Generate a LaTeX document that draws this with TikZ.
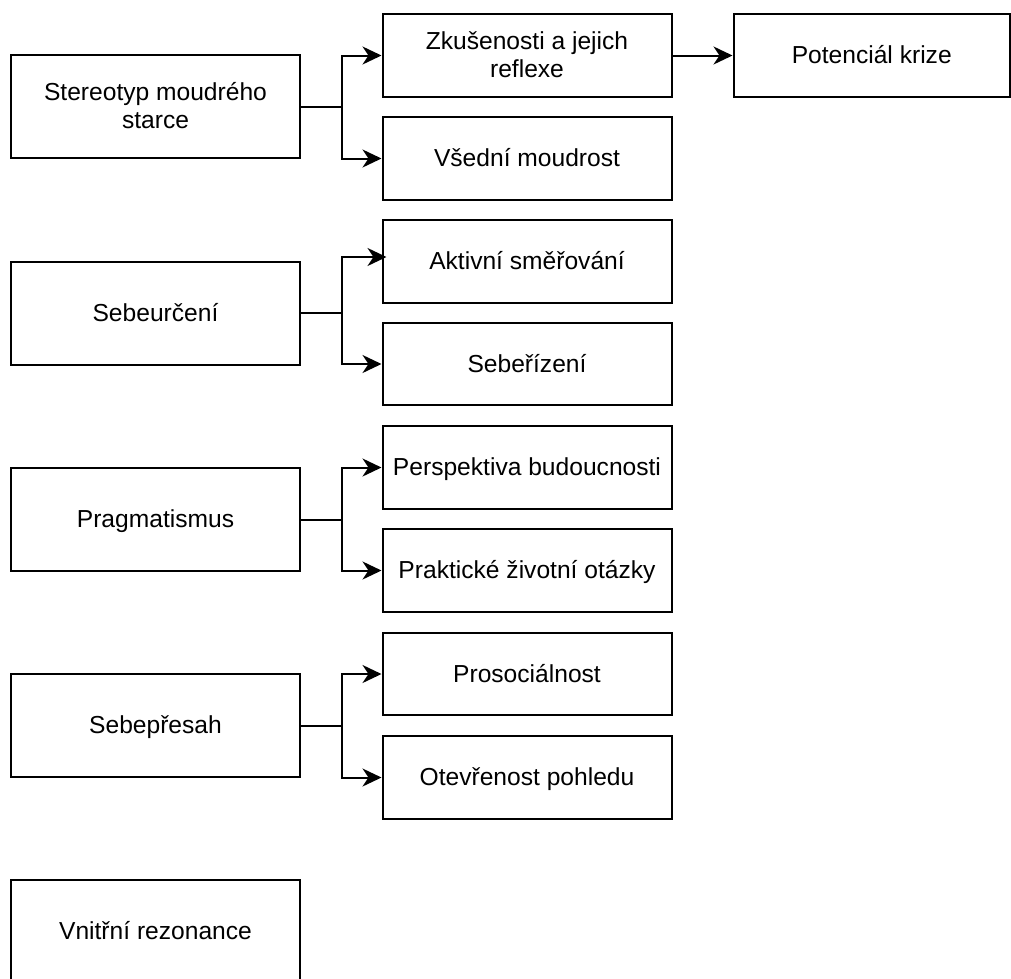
\documentclass[tikz,border=0pt]{standalone}
\usepackage{fontspec}
\setmainfont{Liberation Sans}
\usetikzlibrary{arrows.meta}
\begin{document}
\begin{tikzpicture}[x=1pt,y=-1pt,
  box/.style={draw=black, line width=2pt, fill=white, minimum height=82.5pt,
    minimum width=289pt, inner sep=0pt, text height=20pt, text depth=4pt,
    font=\fontsize{24.6}{28.5}\selectfont, align=center},
  bigbox/.style={box, minimum height=103pt},
  twoline/.style={text height=44.5pt, text depth=0pt},
  conn/.style={draw=black, line width=2pt,
    -{Stealth[length=19pt, width=18pt, inset=6pt]}},
  link/.style={draw=black, line width=2pt}
]
\useasboundingbox (0,0) rectangle (1011,978);
\clip (0,0) rectangle (1011,978);

% left column
\node[bigbox, twoline] (L1) at (155.5,106.5) {Stereotyp moudrého\\starce};
\node[bigbox] (L2) at (155.5,313) {Sebeurčení};
\node[bigbox] (L3) at (155.5,519.5) {Pragmatismus};
\node[bigbox] (L4) at (155.5,725.5) {Sebepřesah};
\node[bigbox] (L5) at (155.5,931.5) {Vnitřní rezonance};

% middle column
\node[box, twoline] (M1) at (527,55.5) {Zkušenosti a jejich\\reflexe};
\node[box] (M2) at (527,158.5) {Všední moudrost};
\node[box] (M3) at (527,261.5) {Aktivní směřování};
\node[box] (M4) at (527,364) {Sebeřízení};
\node[box] (M5) at (527,467.5) {Perspektiva budoucnosti};
\node[box] (M6) at (527,570.5) {Praktické životní otázky};
\node[box] (M7) at (527,674) {Prosociálnost};
\node[box] (M8) at (527,777.5) {Otevřenost pohledu};

% right column
\node[box, minimum width=276.5pt] (R1) at (871.75,55.5) {Potenciál krize};

\coordinate (M3in) at (386.5,257);

% connectors
\draw[conn] (L1.east) -- ++(41,0) |- (M1.west);
\draw[conn] (L1.east) -- ++(41,0) |- (M2.west);
\draw[conn] (L2.east) -- ++(41,0) |- (M3in);
\draw[conn] (L2.east) -- ++(41,0) |- (M4.west);
\draw[conn] (L3.east) -- ++(41,0) |- (M5.west);
\draw[conn] (L3.east) -- ++(41,0) |- (M6.west);
\draw[conn] (L4.east) -- ++(41,0) |- (M7.west);
\draw[conn] (L4.east) -- ++(41,0) |- (M8.west);
\draw[conn] (M1.east) -- (R1.west);
\end{tikzpicture}
\end{document}
